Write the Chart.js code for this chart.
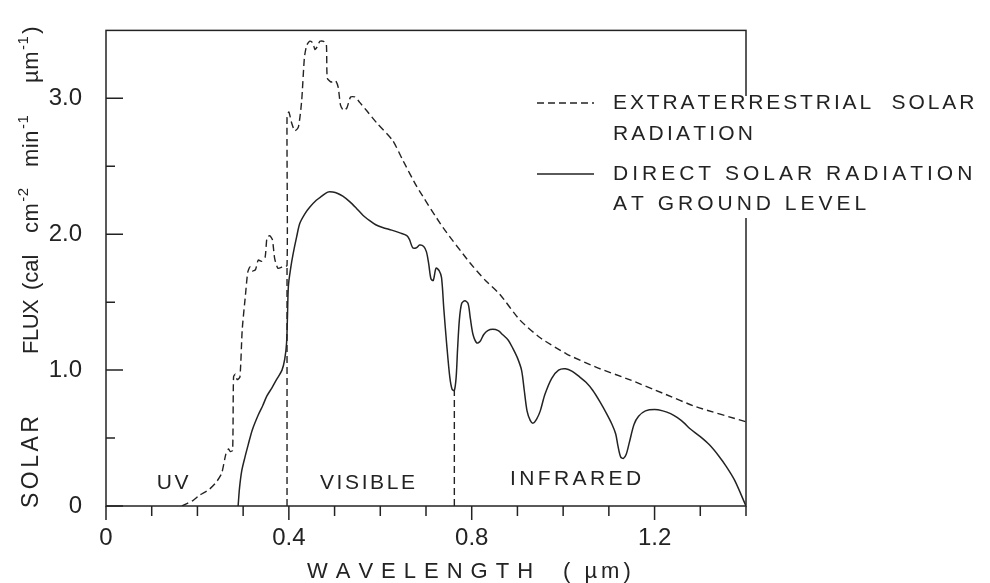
<!DOCTYPE html>
<html>
<head>
<meta charset="utf-8">
<script src="https://cdn.jsdelivr.net/npm/chart.js@4.4.1/dist/chart.umd.min.js"></script>
<style>
  html, body { margin: 0; padding: 0; background: #fff; }
  #wrap { width: 990px; height: 583px; }
</style>
</head>
<body>
<div id="wrap"><canvas id="solarChart" width="990" height="583"></canvas></div>
<script>
// ---- data ----
// extraterrestrial solar radiation (dashed)
const etWavelength = [0.166, 0.19, 0.205, 0.225, 0.24, 0.253, 0.262, 0.268, 0.272, 0.277, 0.279, 0.283, 0.287, 0.293,
  0.298, 0.305, 0.31, 0.315, 0.32, 0.327, 0.333, 0.34, 0.348, 0.352, 0.358, 0.364, 0.369, 0.376, 0.386, 0.396,
  0.396, 0.400, 0.406, 0.413, 0.421, 0.428, 0.434, 0.439, 0.445, 0.452, 0.457, 0.462, 0.468, 0.476, 0.482,
  0.484, 0.492, 0.502, 0.508, 0.513, 0.52, 0.527, 0.535, 0.545, 0.555, 0.57, 0.592, 0.627, 0.65, 0.68, 0.737,
  0.796, 0.83, 0.861, 0.905, 0.949, 1.007, 1.073, 1.145, 1.218, 1.291, 1.4];
const etFlux = [0, 0.04, 0.08, 0.12, 0.17, 0.24, 0.38, 0.42, 0.40, 0.41, 0.95, 0.97, 0.93, 0.95,
  1.3, 1.55, 1.72, 1.76, 1.73, 1.74, 1.81, 1.80, 1.83, 1.97, 1.99, 1.96, 1.82, 1.75, 1.76, 1.77,
  2.86, 2.90, 2.82, 2.76, 2.79, 2.98, 3.3, 3.39, 3.42, 3.41, 3.36, 3.38, 3.42, 3.42, 3.40,
  3.15, 3.12, 3.13, 3.08, 2.95, 2.91, 2.93, 3.01, 3.01, 2.97, 2.91, 2.82, 2.69, 2.54, 2.35, 2.05,
  1.79, 1.66, 1.56, 1.37, 1.24, 1.12, 1.02, 0.93, 0.83, 0.73, 0.62];

// direct solar radiation at ground level (solid)
const directWavelength = [0.289, 0.292, 0.297, 0.304, 0.311, 0.32, 0.333, 0.343, 0.352, 0.363, 0.373, 0.385, 0.391,
  0.395, 0.397, 0.399, 0.404, 0.409, 0.417, 0.424, 0.435, 0.446, 0.46, 0.472, 0.485, 0.496, 0.507, 0.518, 0.533,
  0.548, 0.562, 0.577, 0.59, 0.605, 0.625, 0.643, 0.658, 0.664, 0.671, 0.679, 0.686, 0.695, 0.701, 0.706, 0.711,
  0.716, 0.722, 0.729, 0.734, 0.739, 0.745, 0.752, 0.757, 0.762, 0.766, 0.769, 0.773, 0.778, 0.785, 0.792, 0.797,
  0.803, 0.811, 0.818, 0.826, 0.835, 0.846, 0.858, 0.868, 0.88, 0.89, 0.9, 0.909, 0.915, 0.921, 0.928, 0.934,
  0.942, 0.95, 0.96, 0.975, 0.99, 1.005, 1.02, 1.036, 1.05, 1.065, 1.08, 1.095, 1.107, 1.115, 1.12, 1.126, 1.132,
  1.138, 1.145, 1.155, 1.165, 1.18, 1.2, 1.218, 1.235, 1.25, 1.265, 1.277, 1.3, 1.32, 1.34, 1.357, 1.375, 1.4];
const directFlux = [0, 0.13, 0.26, 0.36, 0.45, 0.56, 0.67, 0.74, 0.81, 0.87, 0.93, 1.0, 1.08,
  1.2, 1.4, 1.62, 1.75, 1.85, 1.98, 2.08, 2.15, 2.2, 2.25, 2.28, 2.31, 2.31, 2.30, 2.28, 2.24,
  2.19, 2.14, 2.10, 2.07, 2.05, 2.03, 2.01, 1.99, 1.96, 1.90, 1.90, 1.92, 1.91, 1.87, 1.78, 1.67,
  1.66, 1.75, 1.73, 1.68, 1.45, 1.2, 0.95, 0.86, 0.85, 0.95, 1.15, 1.37, 1.49, 1.51, 1.49, 1.38,
  1.26, 1.20, 1.21, 1.26, 1.29, 1.30, 1.29, 1.26, 1.22, 1.16, 1.09, 1.0, 0.85, 0.7, 0.63, 0.61,
  0.64, 0.70, 0.82, 0.94, 1.0, 1.01, 0.99, 0.95, 0.91, 0.85, 0.77, 0.68, 0.6, 0.53, 0.44, 0.36, 0.35,
  0.38, 0.47, 0.6, 0.66, 0.70, 0.71, 0.70, 0.68, 0.65, 0.61, 0.57, 0.51, 0.45, 0.37, 0.29, 0.19, 0];

// band boundaries (dashed verticals down to the axis)
const boundaryWavelength = [0.396, 0.762];
const boundaryTop = [1.77, 0.85];

// band names
const bandNames = ['UV', 'VISIBLE', 'INFRARED'];
const bandX = [0.146, 0.572, 1.027];
const bandY = [0.17, 0.17, 0.2];

// axis ticks
const xTicksMajor = [0, 0.4, 0.8, 1.2];
const xTicksMinor = [0.1, 0.2, 0.3, 0.5, 0.6, 0.7, 0.9, 1.0, 1.1, 1.3, 1.4];
const yTicksMajor = [0, 1, 2, 3];
const yTicksMinor = [0.5, 1.5, 2.5];

const legendLines = [
  ['EXTRATERRESTRIAL  SOLAR', 'RADIATION'],
  ['DIRECT SOLAR RADIATION', 'AT GROUND LEVEL']
];

const INK = '#232323';
const FONT = '"Liberation Sans", Arial, Helvetica, sans-serif';

function pts(xs, ys) {
  return xs.map((x, i) => ({ x: x, y: ys[i] }));
}

// draw text letter by letter with extra spacing, returns end x
function spaced(ctx, text, x, y, gap) {
  for (const ch of text) {
    ctx.fillText(ch, x, y);
    x += ctx.measureText(ch).width + gap;
  }
  return x;
}

const boundarySets = boundaryWavelength.map((w, i) => ({
  label: 'boundary' + i,
  data: [{ x: w, y: 0 }, { x: w, y: boundaryTop[i] }],
  borderColor: INK,
  borderWidth: 1.4,
  borderDash: [7, 4],
  pointRadius: 0,
  tension: 0
}));

const decorPlugin = {
  id: 'decor',
  beforeDraw(chart) {
    const ctx = chart.ctx;
    ctx.save();
    ctx.fillStyle = '#fff';
    ctx.fillRect(0, 0, chart.width, chart.height);
    ctx.restore();
  },
  afterDraw(chart) {
    const ctx = chart.ctx;
    const a = chart.chartArea;
    const xs = chart.scales.x, ys = chart.scales.y;
    ctx.save();
    ctx.strokeStyle = INK;
    ctx.fillStyle = INK;
    ctx.lineWidth = 1.5;

    // frame
    ctx.strokeRect(a.left, a.top, a.right - a.left, a.bottom - a.top);

    // x ticks point down, y ticks point in
    ctx.beginPath();
    xTicksMajor.forEach(v => { const p = xs.getPixelForValue(v); ctx.moveTo(p, a.bottom); ctx.lineTo(p, a.bottom + 14); });
    xTicksMinor.forEach(v => { const p = xs.getPixelForValue(v); ctx.moveTo(p, a.bottom); ctx.lineTo(p, a.bottom + 10); });
    yTicksMajor.forEach(v => { const p = ys.getPixelForValue(v); ctx.moveTo(a.left, p); ctx.lineTo(a.left + 17, p); });
    yTicksMinor.forEach(v => { const p = ys.getPixelForValue(v); ctx.moveTo(a.left, p); ctx.lineTo(a.left + 9, p); });
    ctx.stroke();

    // band names
    ctx.font = '21px ' + FONT;
    ctx.textBaseline = 'middle';
    bandNames.forEach((name, i) => {
      const gap = i === 2 ? 3.4 : 2.6;
      let w = 0;
      for (const ch of name) w += ctx.measureText(ch).width + gap;
      w -= gap;
      spaced(ctx, name, xs.getPixelForValue(bandX[i]) - w / 2, ys.getPixelForValue(bandY[i]), gap);
    });

    // x title
    ctx.font = '22px ' + FONT;
    ctx.textBaseline = 'alphabetic';
    spaced(ctx, 'WAVELENGTH', 307, 578, 8);
    spaced(ctx, '( µm)', 563, 578, 4);

    // y title, rotated
    ctx.save();
    ctx.translate(38, 0);
    ctx.rotate(-Math.PI / 2);
    ctx.font = '23px ' + FONT;
    spaced(ctx, 'SOLAR', -508, 0, 3.5);
    ctx.font = '22px ' + FONT;
    spaced(ctx, 'FLUX', -354, 0, -0.5);
    spaced(ctx, '(cal', -290, 0, 0);
    let p = spaced(ctx, 'cm', -233, 0, 0.5);
    ctx.font = '15px ' + FONT;
    spaced(ctx, '-2', p + 1, -10, 0.5);
    ctx.font = '22px ' + FONT;
    p = spaced(ctx, 'min', -167, 0, 0.5);
    ctx.font = '15px ' + FONT;
    spaced(ctx, '-1', p + 1, -10, 0.5);
    ctx.font = '22px ' + FONT;
    p = spaced(ctx, 'µm', -83, 0, 0.5);
    ctx.font = '15px ' + FONT;
    p = spaced(ctx, '-1', p + 1, -10, 0.5);
    ctx.font = '22px ' + FONT;
    spaced(ctx, ')', p + 2, 0, 0);
    ctx.restore();

    // legend, on white so it breaks the right frame
    ctx.fillStyle = '#fff';
    ctx.fillRect(600, 96, 385, 122);
    ctx.fillStyle = INK;
    ctx.lineWidth = 1.5;
    ctx.beginPath();
    ctx.setLineDash([7, 4]);
    ctx.moveTo(537, 103); ctx.lineTo(594, 103);
    ctx.stroke();
    ctx.setLineDash([]);
    ctx.beginPath();
    ctx.moveTo(537, 174); ctx.lineTo(594, 174);
    ctx.stroke();
    ctx.font = '21px ' + FONT;
    ctx.textBaseline = 'middle';
    spaced(ctx, legendLines[0][0], 613, 103, 2.9);
    spaced(ctx, legendLines[0][1], 613, 134, 3.2);
    spaced(ctx, legendLines[1][0], 613, 174, 4.0);
    spaced(ctx, legendLines[1][1], 613, 204, 4.0);
    ctx.restore();
  }
};

new Chart(document.getElementById('solarChart'), {
  type: 'line',
  data: {
    datasets: [
      {
        label: 'EXTRATERRESTRIAL SOLAR RADIATION',
        data: pts(etWavelength, etFlux),
        borderColor: INK,
        borderWidth: 1.4,
        borderDash: [7, 4],
        pointRadius: 0,
        tension: 0.2
      },
      {
        label: 'DIRECT SOLAR RADIATION AT GROUND LEVEL',
        data: pts(directWavelength, directFlux),
        borderColor: INK,
        borderWidth: 1.5,
        pointRadius: 0,
        tension: 0.3
      },
      ...boundarySets
    ]
  },
  options: {
    responsive: false,
    animation: false,
    devicePixelRatio: 1,
    layout: { padding: { top: 29, right: 244, left: 0, bottom: 0 } },
    plugins: { legend: { display: false }, tooltip: { enabled: false } },
    scales: {
      x: {
        type: 'linear',
        min: 0,
        max: 1.4,
        grid: { display: false },
        border: { display: false },
        afterFit: s => { s.height = 77; },
        ticks: {
          stepSize: 0.1,
          autoSkip: false,
          maxRotation: 0,
          padding: 10,
          color: INK,
          font: { family: FONT, size: 24 },
          callback: v => {
            const t = Math.round(v * 10);
            if (t % 4 !== 0 || t > 12) return '';
            return t === 0 ? '0' : (t / 10).toFixed(1);
          }
        }
      },
      y: {
        min: 0,
        max: 3.5,
        grid: { display: false },
        border: { display: false },
        afterFit: s => { s.width = 106; },
        ticks: {
          stepSize: 0.5,
          padding: 16,
          color: INK,
          font: { family: FONT, size: 24 },
          callback: v => {
            const t = Math.round(v * 2);
            if (t % 2 !== 0) return '';
            return t === 0 ? '0' : (t / 2).toFixed(1);
          }
        }
      }
    }
  },
  plugins: [decorPlugin]
});
</script>
</body>
</html>
